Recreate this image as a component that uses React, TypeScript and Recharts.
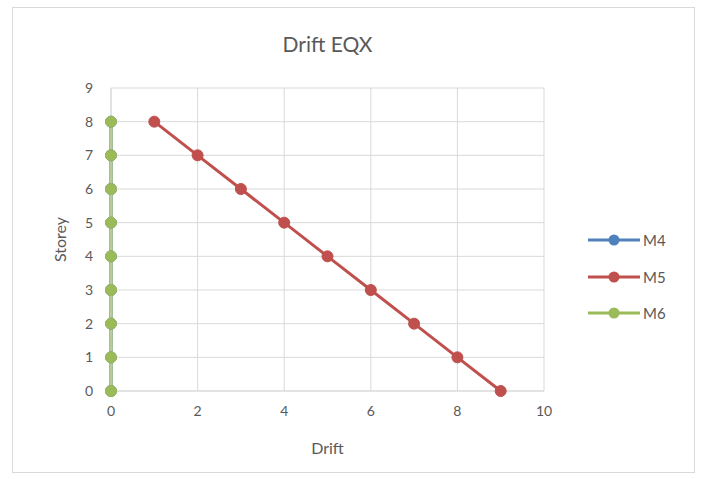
import React from "react";
import {
  LineChart,
  Line,
  XAxis,
  YAxis,
  CartesianGrid,
} from "recharts";

// Storey levels (y) and drift per model (x)
const storeys = [0, 1, 2, 3, 4, 5, 6, 7, 8];
const m4Drift = [0, 0, 0, 0, 0, 0, 0, 0, 0];
const m5Drift = [9, 8, 7, 6, 5, 4, 3, 2, 1];
const m6Drift = [0, 0, 0, 0, 0, 0, 0, 0, 0];

const xTicks = [0, 2, 4, 6, 8, 10];
const yTicks = [0, 1, 2, 3, 4, 5, 6, 7, 8, 9];

const series = [
  { name: "M4", color: "#4F81BD", drift: m4Drift },
  { name: "M5", color: "#C0504D", drift: m5Drift },
  { name: "M6", color: "#9BBB59", drift: m6Drift },
];

const FONT = "Lato, 'Open Sans', sans-serif";
const TEXT = "#595959";

const toPoints = (drift: number[]) =>
  storeys.map((s, i) => ({ drift: drift[i], storey: s }));

// legend drawn beside the plot, Excel style (line + marker)
const LegendBox = () => (
  <div style={{ fontFamily: FONT, fontSize: 15, color: TEXT }}>
    {series.map((s) => (
      <div key={s.name} style={{ height: 36.5, display: "flex", alignItems: "center" }}>
        <svg width={52} height={14}>
          <line x1={0} y1={7} x2={52} y2={7} stroke={s.color} strokeWidth={3} />
          <circle cx={26} cy={7} r={5.5} fill={s.color} />
        </svg>
        <span style={{ marginLeft: 3 }}>{s.name}</span>
      </div>
    ))}
  </div>
);

export default function App() {
  return (
    <div style={{ position: "absolute", left: 0, top: 0, width: 703, height: 479, background: "#fff" }}>
      <div
        style={{
          position: "absolute",
          left: 12,
          top: 7,
          width: 681,
          height: 464,
          border: "1px solid #d9d9d9",
        }}
      />
      <div
        style={{
          position: "absolute",
          left: 111,
          width: 433,
          top: 31,
          textAlign: "center",
          fontFamily: FONT,
          fontSize: 21,
          color: TEXT,
        }}
      >
        Drift EQX
      </div>
      <div style={{ position: "absolute", left: 0, top: 0 }}>
        <LineChart
          width={703}
          height={479}
          margin={{ top: 88, right: 159, left: 51, bottom: 23 }}
        >
          <CartesianGrid stroke="#d9d9d9" strokeWidth={1} />
          <XAxis
            type="number"
            dataKey="drift"
            domain={[0, 10]}
            ticks={xTicks}
            tickLine={false}
            axisLine={{ stroke: "#d9d9d9" }}
            tick={{ fill: TEXT, fontSize: 14, fontFamily: FONT }}
            tickMargin={9}
            height={65}
            label={{
              value: "Drift",
              position: "insideBottom",
              offset: 2,
              fill: TEXT,
              fontSize: 16,
              fontFamily: FONT,
            }}
          />
          <YAxis
            type="number"
            dataKey="storey"
            domain={[0, 9]}
            ticks={yTicks}
            tickLine={false}
            axisLine={{ stroke: "#d9d9d9" }}
            tick={{ fill: TEXT, fontSize: 14, fontFamily: FONT }}
            tickMargin={12}
            width={60}
            label={{
              value: "Storey",
              angle: -90,
              position: "insideLeft",
              offset: 9,
              textAnchor: "middle",
              fill: TEXT,
              fontSize: 16,
              fontFamily: FONT,
            }}
          />
          {series.map((s) => (
            <Line
              key={s.name}
              name={s.name}
              data={toPoints(s.drift)}
              dataKey="storey"
              type="linear"
              stroke={s.color}
              strokeWidth={3}
              dot={{ r: 5.5, fill: s.color, stroke: s.color, strokeWidth: 1 }}
              activeDot={false}
              isAnimationActive={false}
            />
          ))}
        </LineChart>
      </div>
      <div style={{ position: "absolute", left: 588, top: 222 }}>
        <LegendBox />
      </div>
    </div>
  );
}
